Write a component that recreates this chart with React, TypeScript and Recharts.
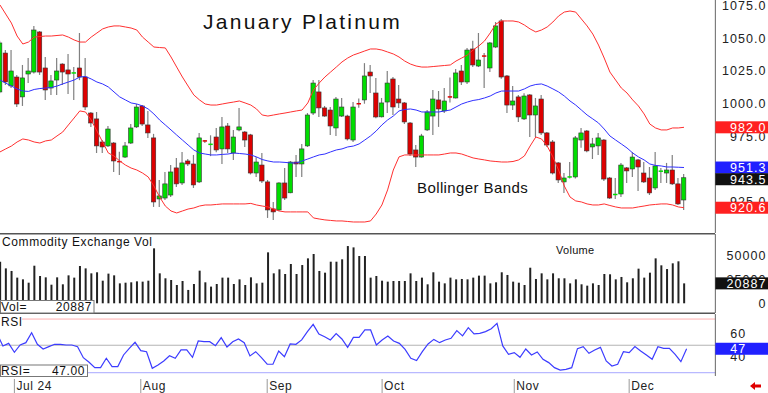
import React from "react";
import {
  Bar,
  BarChart,
  ComposedChart,
  Line,
  LineChart,
  ReferenceLine,
  XAxis,
  YAxis,
} from "recharts";

const FONT = '"Liberation Sans", Arial, Helvetica, sans-serif';

// #region Daily data, late Jun .. mid Dec 2024 (January platinum)
const opens = [
  1009.0, 1038.7, 1013.6, 1020.4, 1005.2, 1022.7, 1024.2, 1054.8, 1027.3, 1012.0,
  1018.1, 1030.3, 1025.8, 1022.7, 1027.3, 1020.4, 992.9, 988.4, 970.8, 967.8,
  970.0, 955.8, 959.3, 970.0, 982.3, 998.3, 983.8, 973.9, 927.3, 928.0,
  930.3, 951.0, 939.5, 956.3, 954.0, 940.3, 971.6, 968.0, 974.6, 965.5,
  983.0, 962.4, 980.0, 978.4, 976.2, 947.1, 953.2, 940.3, 919.7, 918.9,
  939.5, 932.0, 955.5, 954.0, 967.8, 992.9, 1009.0, 996.8, 995.2, 981.5,
  990.6, 990.6, 972.3, 1000.0, 1002.9, 1024.2, 1008.2, 990.0, 1001.3, 1018.9,
  1003.6, 1000.6, 985.3, 964.7, 959.3, 980.0, 990.6, 1002.9, 994.5, 1005.2,
  1004.4, 1025.0, 1016.6, 1041.8, 1028.8, 1036.4, 1027.3, 1043.3, 1063.2, 1021.2,
  999.0, 1005.2, 988.4, 1006.7, 991.4, 1003.6, 977.7, 970.8, 954.8, 940.3,
  943.6, 944.1, 972.3, 979.2, 967.0, 967.8, 972.3, 943.3, 930.0, 931.1,
  951.0, 950.2, 957.1, 947.1, 943.3, 935.7, 947.9, 947.1, 949.4, 938.8,
  926.5,
];
const highs = [
  1048.0, 1041.0, 1041.0, 1022.0, 1029.6, 1034.9, 1059.4, 1055.5, 1035.7, 1022.0,
  1034.9, 1031.0, 1038.0, 1028.0, 1054.0, 1034.9, 993.7, 993.7, 972.3, 983.0,
  970.8, 963.4, 970.8, 984.5, 999.8, 999.0, 994.5, 977.0, 941.8, 947.9,
  953.2, 958.6, 963.2, 957.8, 960.9, 977.7, 972.3, 975.9, 981.5, 989.9,
  985.3, 980.0, 996.8, 979.2, 977.0, 959.3, 962.4, 941.8, 925.0, 940.0,
  951.0, 956.3, 960.9, 969.3, 992.9, 1018.1, 1018.1, 998.3, 997.5, 1005.2,
  1004.4, 991.5, 1001.3, 1004.0, 1031.0, 1029.6, 1019.7, 1004.4, 1025.0, 1020.4,
  1014.3, 1001.3, 986.1, 968.5, 977.0, 995.2, 1010.5, 1009.7, 1012.0, 1020.0,
  1026.5, 1029.6, 1042.5, 1048.0, 1054.0, 1038.7, 1047.1, 1062.4, 1064.7, 1022.0,
  1013.5, 1006.7, 1008.0, 1007.4, 1004.4, 1006.7, 978.4, 972.3, 955.5, 947.1,
  955.5, 975.4, 981.5, 980.0, 973.9, 977.7, 973.0, 944.1, 943.3, 954.8,
  951.7, 963.2, 957.8, 955.5, 951.7, 963.2, 950.9, 954.8, 960.9, 943.3,
  946.3,
];
const lows = [
  1008.0, 1014.3, 1012.0, 997.5, 998.3, 1015.8, 1023.0, 1022.0, 1002.9, 1006.7,
  1006.7, 1014.3, 1007.4, 1002.9, 1018.0, 995.2, 982.3, 962.4, 962.4, 967.0,
  947.9, 945.6, 958.6, 969.3, 981.5, 983.0, 973.9, 921.2, 921.2, 926.5,
  928.8, 936.5, 938.0, 952.5, 935.7, 939.5, 970.0, 960.0, 963.0, 954.0,
  962.4, 957.0, 979.0, 967.0, 946.0, 944.0, 939.5, 912.8, 911.3, 918.0,
  926.5, 931.6, 944.1, 944.1, 967.0, 991.4, 989.9, 990.0, 976.2, 975.4,
  989.9, 972.0, 970.8, 997.0, 1000.0, 1008.2, 989.0, 989.5, 993.0, 991.4,
  996.8, 984.5, 960.0, 951.7, 958.9, 979.2, 976.2, 982.3, 993.0, 1001.0,
  1004.0, 1014.3, 1015.0, 1028.0, 1028.0, 1012.0, 1024.2, 1042.5, 1019.0, 993.0,
  995.2, 986.1, 987.6, 974.6, 974.6, 976.2, 967.0, 946.0, 939.5, 931.9,
  943.0, 943.0, 966.3, 963.0, 957.8, 960.9, 941.0, 927.3, 927.3, 928.8,
  939.5, 944.1, 933.4, 939.5, 930.3, 934.2, 939.5, 939.5, 938.0, 922.7,
  918.9,
];
const closes = [
  1046.4, 1016.6, 1025.0, 999.8, 1019.7, 1025.0, 1056.3, 1024.2, 1010.5, 1017.4,
  1025.0, 1024.2, 1022.7, 1023.5, 1020.4, 997.5, 985.3, 967.8, 967.0, 980.7,
  956.3, 955.0, 967.8, 981.5, 997.5, 984.5, 977.7, 925.0, 929.6, 938.8,
  947.9, 938.8, 954.8, 954.0, 938.0, 973.9, 971.0, 969.0, 964.7, 982.3,
  965.5, 974.6, 982.3, 972.3, 947.1, 955.5, 941.0, 918.9, 917.4, 939.5,
  928.0, 955.5, 954.0, 965.5, 991.4, 1015.8, 996.8, 990.6, 983.0, 1003.6,
  997.5, 973.1, 997.5, 999.2, 1021.2, 1021.2, 989.9, 1000.6, 1015.8, 997.5,
  1000.6, 986.1, 961.6, 959.3, 975.4, 993.7, 1003.6, 996.0, 1002.1, 1004.4,
  1023.5, 1016.6, 1041.0, 1029.6, 1033.4, 1035.7, 1046.4, 1059.4, 1020.4, 999.0,
  1002.1, 989.9, 1005.9, 991.4, 998.3, 977.7, 968.5, 947.1, 941.8, 943.3,
  944.1, 973.9, 977.7, 964.0, 969.3, 973.9, 942.5, 928.0, 930.7, 953.2,
  948.7, 959.3, 951.7, 940.3, 931.9, 952.5, 948.5, 949.4, 938.8, 923.5,
  943.5,
];
const bbUpper = [
  1075.4, 1068.5, 1061.6, 1051.7, 1045.6, 1047.1, 1050.9, 1051.3, 1051.7, 1051.7,
  1052.1, 1052.5, 1050.9, 1048.7, 1047.1, 1047.1, 1050.9, 1054.0, 1057.1, 1058.6,
  1059.4, 1059.4, 1058.6, 1057.8, 1056.3, 1050.9, 1047.1, 1043.3, 1042.9, 1042.6,
  1035.7, 1028.0, 1020.4, 1013.5, 1006.7, 1002.9, 999.8, 999.0, 999.0, 999.8,
  1000.6, 1001.3, 1002.1, 1000.6, 999.0, 996.0, 991.4, 990.6, 991.4, 992.2,
  992.9, 993.7, 994.5, 995.2, 1000.6, 1010.5, 1015.8, 1020.4, 1024.2, 1028.0,
  1031.9, 1034.9, 1037.2, 1038.7, 1040.3, 1041.8, 1041.8, 1041.0, 1039.5, 1038.0,
  1035.7, 1032.6, 1030.3, 1028.8, 1028.0, 1028.0, 1028.4, 1028.8, 1029.2, 1029.6,
  1032.6, 1034.9, 1037.2, 1041.0, 1044.1, 1047.9, 1054.0, 1060.9, 1063.2, 1063.2,
  1063.2, 1062.4, 1060.1, 1057.1, 1054.8, 1056.3, 1058.6, 1062.4, 1067.0, 1070.0,
  1070.8, 1070.0, 1064.7, 1059.4, 1053.2, 1044.8, 1034.9, 1024.2, 1018.1, 1012.0,
  1008.2, 1002.9, 998.3, 992.2, 984.5, 981.5, 980.0, 980.0, 981.5, 981.5,
  982.0,
];
const bbMid = [
  1018.1, 1015.8, 1013.5, 1011.3, 1009.7, 1009.4, 1010.9, 1011.6, 1012.0, 1012.4,
  1013.5, 1015.1, 1016.6, 1018.1, 1020.4, 1020.8, 1018.9, 1016.6, 1015.1, 1012.8,
  1009.0, 1005.2, 1002.9, 1000.6, 999.8, 998.3, 996.0, 992.2, 987.6, 983.8,
  980.0, 976.1, 972.3, 968.5, 964.7, 962.4, 961.6, 960.9, 960.9, 961.3,
  961.6, 962.4, 962.0, 961.6, 960.9, 959.4, 957.4, 956.3, 955.5, 955.5,
  955.2, 954.8, 954.8, 956.3, 957.8, 959.4, 960.9, 961.6, 963.2, 964.7,
  965.5, 967.0, 967.7, 969.3, 972.3, 975.4, 979.2, 983.8, 987.6, 990.6,
  994.5, 995.6, 996.0, 995.2, 993.7, 993.7, 993.7, 993.7, 994.5, 995.2,
  997.5, 999.8, 1001.3, 1002.5, 1003.2, 1004.4, 1005.9, 1008.2, 1009.7, 1009.7,
  1009.7, 1009.7, 1011.3, 1013.5, 1014.7, 1015.1, 1013.5, 1011.3, 1009.0, 1005.9,
  1002.1, 999.0, 995.2, 991.4, 988.4, 985.3, 980.7, 975.4, 972.3, 969.3,
  966.2, 962.4, 959.4, 957.1, 954.0, 952.9, 952.5, 951.7, 951.7, 951.5,
  951.3,
];
const bbLower = [
  963.2, 965.5, 967.7, 970.8, 973.1, 972.3, 970.8, 970.0, 971.6, 972.3,
  975.4, 978.4, 983.8, 989.1, 994.5, 993.7, 987.6, 979.2, 970.8, 962.4,
  960.1, 956.3, 953.2, 950.9, 949.4, 947.1, 944.1, 937.2, 928.8, 921.9,
  918.1, 916.6, 918.1, 919.6, 920.4, 921.9, 922.7, 922.7, 923.1, 923.5,
  923.5, 923.5, 923.5, 923.5, 923.9, 922.7, 921.9, 921.2, 919.6, 918.1,
  917.4, 917.4, 917.4, 917.4, 917.4, 912.8, 912.0, 911.3, 910.9, 910.5,
  910.5, 910.1, 909.7, 909.7, 909.7, 910.5, 915.8, 922.7, 934.2, 949.4,
  959.4, 960.9, 960.9, 960.9, 960.9, 960.9, 960.9, 960.9, 961.6, 962.4,
  962.4, 961.6, 960.1, 958.6, 957.8, 957.1, 956.3, 955.9, 955.5, 955.5,
  955.9, 957.1, 960.1, 967.7, 974.6, 973.1, 967.7, 959.4, 949.4, 937.2,
  928.8, 925.8, 925.0, 923.5, 922.7, 922.7, 923.5, 922.3, 921.2, 920.4,
  920.4, 920.4, 921.2, 921.9, 922.7, 923.1, 923.5, 923.5, 922.7, 921.2,
  920.6,
];
const volumes = [
  43600, 36600, 33900, 26900, 25100, 21600, 39400, 28600, 27200, 19500,
  27200, 19900, 29300, 26900, 39100, 36600, 31400, 32500, 23700, 31100,
  29300, 20900, 21600, 22000, 23000, 22700, 23700, 57600, 31400, 26200,
  24400, 19200, 23400, 14000, 20200, 34200, 22000, 17500, 20200, 26900,
  26900, 20200, 25100, 19200, 27200, 20900, 21600, 53400, 31400, 35600,
  30700, 41200, 30700, 40100, 47100, 51700, 33900, 32100, 43600, 43600,
  46100, 60000, 58600, 49600, 49600, 26900, 28600, 23700, 22700, 23400,
  23400, 23400, 31400, 23400, 26900, 19900, 32500, 22700, 20900, 26900,
  25100, 25500, 25100, 26900, 29000, 29000, 20900, 22000, 32500, 29700,
  22700, 21600, 19200, 37300, 25500, 31400, 25100, 31400, 26200, 26200,
  20900, 25100, 19900, 18500, 20900, 19200, 30700, 30400, 25100, 27600,
  22000, 26200, 36300, 26900, 32100, 47100, 39800, 35900, 41900, 44000,
  20887,
];
const rsiValues = [
  59.6, 49.4, 51.6, 44.0, 50.2, 52.2, 60.7, 50.8, 46.8, 48.8,
  50.8, 50.8, 50.2, 50.2, 48.8, 39.4, 35.5, 30.9, 30.9, 38.9,
  31.8, 31.8, 41.7, 47.4, 52.5, 45.4, 44.5, 30.4, 33.2, 36.6,
  41.1, 38.9, 46.0, 46.0, 39.7, 53.6, 53.0, 53.0, 49.6, 56.5,
  48.5, 53.0, 55.3, 52.2, 40.9, 44.5, 39.4, 33.8, 33.8, 45.1,
  40.3, 51.1, 50.8, 54.5, 61.6, 67.8, 59.6, 57.3, 54.5, 59.9,
  55.3, 48.2, 56.7, 56.7, 63.0, 63.0, 50.2, 54.5, 57.9, 53.6,
  51.6, 46.5, 38.9, 36.9, 44.5, 51.1, 55.0, 52.2, 54.5, 55.9,
  62.4, 57.9, 65.0, 59.6, 60.1, 61.6, 64.1, 68.7, 49.4, 42.3,
  43.7, 39.7, 46.8, 41.7, 44.3, 38.0, 35.2, 30.9, 28.9, 29.5,
  30.9, 47.1, 48.8, 43.1, 46.0, 48.2, 36.6, 32.3, 33.8, 44.5,
  43.7, 48.8, 45.1, 41.7, 38.0, 48.8, 47.4, 47.4, 42.3, 36.0,
  47.0,
];
// #endregion

// first trading day of each month (bar index) and its label
const monthTicks = [3, 25, 47, 67, 90, 110];
const monthLabels = ["Jul 24", "Aug", "Sep", "Oct", "Nov", "Dec"];

const priceTicks = [925, 950, 975, 1000, 1025, 1050, 1075];
const volTicks = [0, 25000, 50000];
const rsiTicks = [40, 60];
const rsiBands = [72.3, 50, 26.6];

const last = closes.length - 1;
const SLOTS = 126; // bar slots across the plot, the last ones stay empty

const rows = Array.from({ length: SLOTS }, (_, i) =>
  i <= last
    ? {
        i,
        o: opens[i],
        h: highs[i],
        l: lows[i],
        c: closes[i],
        range: [lows[i], highs[i]],
        up: bbUpper[i],
        mid: bbMid[i],
        lo: bbLower[i],
        vol: volumes[i],
        rsi: rsiValues[i],
      }
    : { i }
);

// last-value tags; they ride on the axis tick list after the normal ticks,
// so they are painted over the tick labels
const priceTags = [
  { value: bbUpper[last], text: bbUpper[last].toFixed(1), bg: "#ff2020", dy: 0 },
  { value: bbMid[last], text: bbMid[last].toFixed(1), bg: "#2020ff", dy: 0 },
  { value: closes[last], text: closes[last].toFixed(1), bg: "#111111", dy: 1.5 },
  { value: bbLower[last], text: bbLower[last].toFixed(1), bg: "#ff2020", dy: 0 },
];
const volTags = [{ value: volumes[last], text: String(volumes[last]), bg: "#111111", dy: 0 }];
const rsiTags = [{ value: rsiValues[last], text: rsiValues[last].toFixed(0), bg: "#2020ff", dy: 0 }];

const W = 768;
const AXIS_W = 52.65;
const MARGIN = { top: 0, right: 0, bottom: 0, left: -2.85 };
const TXT = { fontFamily: FONT, fontSize: 12.5, letterSpacing: 1, fill: "#222" };

const Candle = (props: any) => {
  const { x, y, width, height, payload } = props;
  if (payload == null || payload.o == null) return null;
  const { o, h, l, c } = payload;
  const k = h === l ? 0 : height / (h - l);
  const cx = x + width / 2;
  const yo = y + (h - o) * k;
  const yc = y + (h - c) * k;
  const top = Math.min(yo, yc);
  const color = c >= o ? "#00dd00" : "#dd0000";
  return (
    <g>
      <line x1={cx} x2={cx} y1={y} y2={y + height} stroke="#808080" strokeWidth={1.2} />
      {Math.abs(yo - yc) < 1.5 ? (
        <line x1={cx - 2.2} x2={cx + 2.2} y1={top} y2={top} stroke={color} strokeWidth={1.5} />
      ) : (
        <rect x={cx - 2.2} y={top} width={4.4} height={Math.abs(yo - yc)} fill={color} stroke="#333" strokeWidth={0.6} />
      )}
    </g>
  );
};

const AxisTick = (props: any) => {
  const { x, y, payload, index, format, start, nTicks, tags } = props;
  const tx = start ? x + 15 : x + 51;
  const anchor = start ? "start" : "end";
  if (index >= nTicks) {
    const t = tags[index - nTicks];
    if (!t) return null;
    const cy = y + t.dy;
    return (
      <g>
        <rect x={x} y={cy - 6} width={AXIS_W} height={12} fill={t.bg} />
        <text x={tx} y={cy} dy="0.36em" textAnchor={anchor} {...TXT} fill="#fff">
          {t.text}
        </text>
      </g>
    );
  }
  const text = format ? format(payload.value) : String(payload.value);
  return (
    <text x={tx} y={y} dy="0.36em" textAnchor={anchor} {...TXT}>
      {text}
    </text>
  );
};

const MonthTick = (props: any) => {
  const { x, y, payload } = props;
  const k = monthTicks.indexOf(payload.value);
  if (k < 0) return null;
  return (
    <g>
      <line x1={x} x2={x} y1={y + 3} y2={y + 17} stroke="#999" />
      <text x={x + 2} y={y + 13.5} fontFamily={FONT} fontSize={12} letterSpacing={0.6} fill="#222">
        {monthLabels[k]}
      </text>
    </g>
  );
};

const rightAxis = (domain: number[], ticks: number[], tags: any[], opts: any = {}) => (
  <YAxis
    orientation="right"
    width={AXIS_W}
    domain={domain}
    allowDataOverflow
    ticks={[...ticks, ...tags.map((t) => t.value)]}
    interval={0}
    tickSize={0}
    tickMargin={0}
    tickLine={false}
    axisLine={{ stroke: "#666" }}
    tick={<AxisTick nTicks={ticks.length} tags={tags} {...opts} />}
  />
);

const PRICE_DOMAIN = [901.3, 1079.2];
const VOL_DOMAIN = [-10170, 72630];
const RSI_DOMAIN = [23.8, 76.6];

const App = () => {
  return (
    <div style={{ position: "relative", width: W, height: 393, background: "#fff", overflow: "hidden" }}>
      <style>{"body{margin:0}"}</style>

      <div style={{ position: "absolute", left: 0, top: 0 }}>
        <ComposedChart width={W} height={233} data={rows} margin={MARGIN}>
          <XAxis dataKey="i" hide />
          {rightAxis(PRICE_DOMAIN, priceTicks, priceTags, { format: (v: number) => v.toFixed(1) })}
          <Line dataKey="up" stroke="#ff3030" strokeWidth={1} dot={false} activeDot={false} isAnimationActive={false} />
          <Line dataKey="lo" stroke="#ff3030" strokeWidth={1} dot={false} activeDot={false} isAnimationActive={false} />
          <Line dataKey="mid" stroke="#3030ff" strokeWidth={1} dot={false} activeDot={false} isAnimationActive={false} />
          <Bar dataKey="range" barSize={5} shape={<Candle />} isAnimationActive={false} />
        </ComposedChart>
      </div>

      <div style={{ position: "absolute", left: 0, top: 234 }}>
        <BarChart width={W} height={79} data={rows} margin={MARGIN}>
          <XAxis dataKey="i" hide />
          {rightAxis(VOL_DOMAIN, volTicks, volTags)}
          <Bar dataKey="vol" barSize={2} fill="#222" isAnimationActive={false} />
        </BarChart>
      </div>

      <div style={{ position: "absolute", left: 0, top: 314 }}>
        <LineChart width={W} height={79} data={rows} margin={MARGIN}>
          <XAxis
            dataKey="i"
            height={17}
            interval={0}
            tickSize={0}
            tickMargin={0}
            axisLine={false}
            tickLine={false}
            tick={<MonthTick />}
          />
          {rightAxis(RSI_DOMAIN, rsiTicks, rsiTags, { start: true })}
          <ReferenceLine y={rsiBands[0]} stroke="#ffb0b0" />
          <ReferenceLine y={rsiBands[1]} stroke="#b4b4b4" />
          <ReferenceLine y={rsiBands[2]} stroke="#a8a8ff" />
          <Line dataKey="rsi" stroke="#3c3cff" strokeWidth={1.2} dot={false} activeDot={false} isAnimationActive={false} />
        </LineChart>
      </div>

      <svg width={W} height={393} style={{ position: "absolute", left: 0, top: 0, pointerEvents: "none" }}>
        <text x={203} y={28.5} fontFamily={FONT} fontSize={21} letterSpacing={2.3} fill="#111">
          January Platinum
        </text>
        <text x={417} y={193} fontFamily={FONT} fontSize={15} letterSpacing={0.4} fill="#111">
          Bollinger Bands
        </text>

        <line x1={0} x2={715} y1={233.8} y2={233.8} stroke="#555" strokeWidth={1.6} />
        <line x1={0} x2={715} y1={313.3} y2={313.3} stroke="#555" strokeWidth={1.6} />

        <text x={2} y={246} fontFamily={FONT} fontSize={12} letterSpacing={0.6} fill="#111">
          Commodity Exchange Vol
        </text>
        <text x={556} y={254} fontFamily={FONT} fontSize={11} letterSpacing={0.3} fill="#111">
          Volume
        </text>
        <rect x={0.5} y={300.5} width={93.5} height={12.5} fill="#fff" stroke="#777" />
        <text x={1} y={311} fontFamily={FONT} fontSize={12} letterSpacing={0.6} fill="#111">
          Vol=
        </text>
        <text x={92} y={311} textAnchor="end" fontFamily={FONT} fontSize={12} letterSpacing={0.6} fill="#111">
          {volumes[last]}
        </text>

        <rect x={0} y={315.5} width={22} height={11.5} fill="#fff" />
        <text x={1} y={326} fontFamily={FONT} fontSize={12} letterSpacing={0.6} fill="#111">
          RSI
        </text>
        <rect x={0.5} y={365} width={87} height={11.5} fill="#fff" stroke="#777" />
        <text x={1} y={375} fontFamily={FONT} fontSize={12} letterSpacing={0.6} fill="#111">
          RSI=
        </text>
        <text x={85} y={375} textAnchor="end" fontFamily={FONT} fontSize={12} letterSpacing={0.6} fill="#111">
          {rsiValues[last].toFixed(2)}
        </text>

        <polygon points="750,386 755,382 755,384.5 761,384.5 761,387.5 755,387.5 755,390" fill="#e00000" />
      </svg>
    </div>
  );
};

export default App;
